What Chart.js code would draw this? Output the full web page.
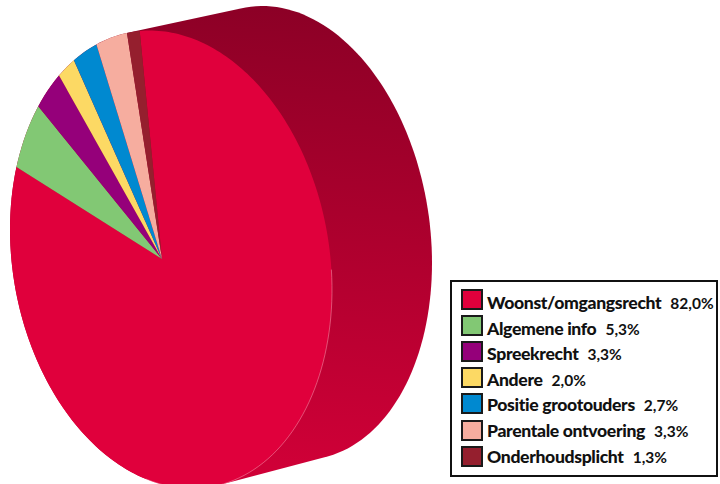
<!DOCTYPE html>
<html>
<head>
<meta charset="utf-8">
<script src="https://cdn.jsdelivr.net/npm/chart.js@4/dist/chart.umd.min.js"></script>
<style>
  html, body { margin: 0; padding: 0; background: #fff; overflow: hidden; }
  #wrap { position: relative; width: 720px; height: 484px; }
  #legend {
    position: absolute; left: 450px; top: 280px; width: 264px; height: 193px;
    border: 2.5px solid #111; background: #fff; box-sizing: content-box;
    font-family: Lato, sans-serif; color: #111;
  }
  .row { position: absolute; left: 9px; height: 21px; white-space: nowrap; line-height: 21px; }
  .box { position: absolute; left: 0; top: 0; width: 18px; height: 17px; border: 2px solid #1a1a1a; }
  .name { position: absolute; left: 26px; top: 0; font-size: 17.6px; font-weight: 900; letter-spacing: -0.35px; }
  .val { font-size: 15.5px; font-weight: 700; margin-left: 9px; letter-spacing: 0; }
</style>
</head>
<body>
<div id="wrap">
  <canvas id="myChart" width="720" height="484"></canvas>
  <div id="legend"></div>
</div>
<script>
const categories = ['Woonst/omgangsrecht','Algemene info','Spreekrecht','Andere','Positie grootouders','Parentale ontvoering','Onderhoudsplicht'];
const shares = [82.0, 5.3, 3.3, 2.0, 2.7, 3.3, 1.3];
const colors = ['#e0003c','#82c874','#95007a','#fcd964','#0089d0','#f6ad9f','#951f2e'];

// front face: tilted ellipse, pie tip sits off centre (perspective)
const face = {cx:171, cy:259.5, a:161, c:30, d:227};
const tip = {x:162, y:259};
// back face of the drum
const back = {cx:282, cy:233, a:150, c:30, d:225};

function onEllipse(e, px, py){
  return {x: e.cx + e.a*px, y: e.cy + e.c*px + e.d*py};
}

const ux = (tip.x-face.cx)/face.a;
const uy = ((tip.y-face.cy) - face.c*ux)/face.d;

// moves the disc centre onto the tip, rim stays on the rim
function persp(px, py){
  const uu = ux*ux+uy*uy;
  const s = Math.sqrt(1-uu);
  const dot = ux*px+uy*py;
  const k = (1-s)*dot/uu;
  const den = 1+dot;
  return [(ux + s*px + k*ux)/den, (uy + s*py + k*uy)/den];
}

function rimPoint(ang){
  const p = persp(Math.cos(ang), Math.sin(ang));
  return onEllipse(face, p[0], p[1]);
}

function hull(pts){
  pts = pts.slice().sort((p,q)=>p.x-q.x || p.y-q.y);
  const cross=(o,p,q)=>(p.x-o.x)*(q.y-o.y)-(p.y-o.y)*(q.x-o.x);
  const lower=[], upper=[];
  pts.forEach(p=>{
    while(lower.length>1 && cross(lower[lower.length-2],lower[lower.length-1],p)<=0) lower.pop();
    lower.push(p);
  });
  pts.slice().reverse().forEach(p=>{
    while(upper.length>1 && cross(upper[upper.length-2],upper[upper.length-1],p)<=0) upper.pop();
    upper.push(p);
  });
  return lower.slice(0,-1).concat(upper.slice(0,-1));
}

const drumPlugin = {
  id:'drum',
  beforeDatasetDraw(chart, args){
    const ctx = chart.ctx;
    const arcs = chart.getDatasetMeta(args.index).data;

    // side of the drum
    const pts = [];
    for(let i=0;i<360;i+=2){
      const t = i*Math.PI/180;
      pts.push(onEllipse(face, Math.cos(t), Math.sin(t)));
      pts.push(onEllipse(back, Math.cos(t), Math.sin(t)));
    }
    const side = ctx.createLinearGradient(300,7,262,465);
    side.addColorStop(0,'#8c0026');
    side.addColorStop(0.5,'#ae002e');
    side.addColorStop(1,'#cf0037');
    ctx.beginPath();
    hull(pts).forEach((p,i)=> i? ctx.lineTo(p.x,p.y): ctx.moveTo(p.x,p.y));
    ctx.closePath();
    ctx.fillStyle = side;
    ctx.fill();

    // slices, angles come from the arc elements
    arcs.forEach((arc,i)=>{
      const steps = Math.max(4, Math.ceil((arc.endAngle-arc.startAngle)/0.02));
      ctx.beginPath();
      ctx.moveTo(tip.x, tip.y);
      for(let k=0;k<=steps;k++){
        const p = rimPoint(arc.startAngle+(arc.endAngle-arc.startAngle)*k/steps);
        ctx.lineTo(p.x,p.y);
      }
      ctx.closePath();
      ctx.fillStyle = colors[i];
      ctx.fill();
    });

    // thin light line on the lower right rim
    ctx.beginPath();
    for(let t=-5;t<=100;t+=2){
      const r = t*Math.PI/180;
      const p = onEllipse(face, Math.cos(r), Math.sin(r));
      t==-5? ctx.moveTo(p.x,p.y): ctx.lineTo(p.x,p.y);
    }
    ctx.strokeStyle = 'rgba(255,190,205,0.6)';
    ctx.lineWidth = 0.7;
    ctx.stroke();
    return false;
  }
};

new Chart(document.getElementById('myChart'), {
  type:'pie',
  data:{ labels:categories, datasets:[{ data:shares, backgroundColor:colors, borderWidth:0 }] },
  options:{
    responsive:false,
    animation:false,
    rotation:-8,
    plugins:{ legend:{display:false}, tooltip:{enabled:false} }
  },
  plugins:[drumPlugin]
});

// html legend, two text sizes on one row
const legend = document.getElementById('legend');
categories.forEach((name,i)=>{
  const row = document.createElement('div');
  row.className='row';
  row.style.top = (7+i*26.1)+'px';
  const box = document.createElement('div');
  box.className='box';
  box.style.background = colors[i];
  const label = document.createElement('div');
  label.className='name';
  label.style.top = (3-i*0.5)+'px';
  label.textContent = name;
  const val = document.createElement('span');
  val.className='val';
  val.textContent = shares[i].toFixed(1).replace('.',',')+'%';
  label.appendChild(val);
  row.appendChild(box);
  row.appendChild(label);
  legend.appendChild(row);
});
</script>
</body>
</html>
